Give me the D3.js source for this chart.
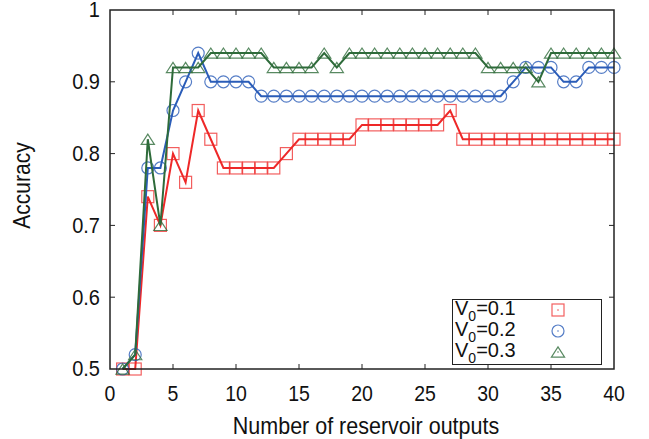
<!DOCTYPE html>
<html><head><meta charset="utf-8">
<script src="https://cdn.jsdelivr.net/npm/d3@7"></script>
<style>body{margin:0;background:#fff}svg{display:block;font-family:"Liberation Sans",Arial,sans-serif}</style>
</head><body><svg id="c" width="649" height="439"></svg>
<script>
const xs = d3.range(1, 41);
const v01 = [0.50,0.50,0.74,0.70,0.80,0.76,0.86,0.82,0.78,0.78,0.78,0.78,0.78,0.80,0.82,0.82,0.82,0.82,0.82,0.84,0.84,0.84,0.84,0.84,0.84,0.84,0.86,0.82,0.82,0.82,0.82,0.82,0.82,0.82,0.82,0.82,0.82,0.82,0.82,0.82];
const v02 = [0.50,0.52,0.78,0.78,0.86,0.90,0.94,0.90,0.90,0.90,0.90,0.88,0.88,0.88,0.88,0.88,0.88,0.88,0.88,0.88,0.88,0.88,0.88,0.88,0.88,0.88,0.88,0.88,0.88,0.88,0.88,0.90,0.92,0.92,0.92,0.90,0.90,0.92,0.92,0.92];
const v03 = [0.50,0.52,0.82,0.70,0.92,0.92,0.92,0.94,0.94,0.94,0.94,0.94,0.92,0.92,0.92,0.92,0.94,0.92,0.94,0.94,0.94,0.94,0.94,0.94,0.94,0.94,0.94,0.94,0.94,0.92,0.92,0.92,0.92,0.90,0.94,0.94,0.94,0.94,0.94,0.94];
const seriesNames = ["0.1","0.2","0.3"];
const xTicks = [0,5,10,15,20,25,30,35,40];
const yTicks = [0.5,0.6,0.7,0.8,0.9,1];
const xTitle = "Number of reservoir outputs";
const yTitle = "Accuracy";

const svg = d3.select("#c");
const L=110,R=614,T=10,B=369;
const x = d3.scaleLinear().domain([0,40]).range([L,R]);
const y = d3.scaleLinear().domain([0.5,1]).range([B,T]);
const colors = ["#ee2828","#2a5cb8","#2e6b3a"];
const data = [v01,v02,v03];

// ticks inward
const tl=5;
const g = svg.append("g");
xTicks.slice(1,-1).forEach(t=>{
  g.append("line").attr("x1",x(t)).attr("x2",x(t)).attr("y1",B).attr("y2",B-tl).attr("stroke","#222");
  g.append("line").attr("x1",x(t)).attr("x2",x(t)).attr("y1",T).attr("y2",T+tl).attr("stroke","#222");
});
yTicks.slice(1,-1).forEach(t=>{
  g.append("line").attr("x1",L).attr("x2",L+tl).attr("y1",y(t)).attr("y2",y(t)).attr("stroke","#222");
  g.append("line").attr("x1",R).attr("x2",R-tl).attr("y1",y(t)).attr("y2",y(t)).attr("stroke","#222");
});
function label(px, py, txt, size, sy, anchor, rot){
  svg.append("text")
    .attr("transform",`translate(${px},${py})${rot?" rotate(-90)":""} scale(1,${sy})`)
    .attr("text-anchor",anchor).attr("font-size",size).attr("fill","#111").text(txt);
}
xTicks.forEach(t=>label(x(t),401,t,19.5,1.12,"middle"));
yTicks.forEach(t=>label(100,y(t)+7.3,t===1?"1":t.toFixed(1),20,1.06,"end"));
label(366,434,xTitle,21.5,1.1,"middle");
label(29.5,185.5,yTitle,21,1.15,"middle",true);

function marker(sel, i, cx, cy, s){
  const c = colors[i];
  if(i===0){
    sel.append("rect").attr("x",cx-s/2).attr("y",cy-s/2).attr("width",s).attr("height",s).attr("fill","none").attr("stroke",c).attr("stroke-width",1.2).attr("opacity",0.75);
  } else if(i===1){
    sel.append("circle").attr("cx",cx).attr("cy",cy).attr("r",s/2).attr("fill","none").attr("stroke",c).attr("stroke-width",1.2).attr("opacity",0.8);
  } else {
    const h=s*0.85;
    sel.append("path").attr("d",`M${cx-s/2*1.1},${cy+h/2}L${cx+s/2*1.1},${cy+h/2}L${cx},${cy-h/2}Z`).attr("fill","none").attr("stroke",c).attr("stroke-width",1.2).attr("opacity",0.8);
  }
}

const line = d3.line().x((d,i)=>x(xs[i])).y(d=>y(d));
data.forEach((vals,i)=>{
  const sg = svg.append("g");
  sg.append("path").attr("d",line(vals)).attr("fill","none").attr("stroke",colors[i]).attr("stroke-width",2);
  vals.forEach((v,j)=>marker(sg,i,x(xs[j]),y(v),12));
});

// frame
svg.append("rect").attr("x",L).attr("y",T).attr("width",R-L).attr("height",B-T).attr("fill","none").attr("stroke","#222").attr("stroke-width",1.5);

// legend
const lg = svg.append("g");
lg.append("rect").attr("x",452.5).attr("y",299.5).attr("width",149).attr("height",65).attr("fill","#fff").attr("stroke","#222").attr("stroke-width",1);
const rowsY=[315,336,357];
seriesNames.forEach((n,i)=>{
  const t = lg.append("text").attr("x",455).attr("y",rowsY[i]).attr("font-size",20).attr("fill","#111");
  t.append("tspan").text("V");
  t.append("tspan").attr("font-size",14).attr("dy",6).text("0");
  t.append("tspan").attr("dy",-6).text("="+n);
  marker(lg,i,558,rowsY[i]-5,12);
  lg.append("circle").attr("cx",558).attr("cy",rowsY[i]-5).attr("r",0.7).attr("fill",colors[i]);
});
</script></body></html>
